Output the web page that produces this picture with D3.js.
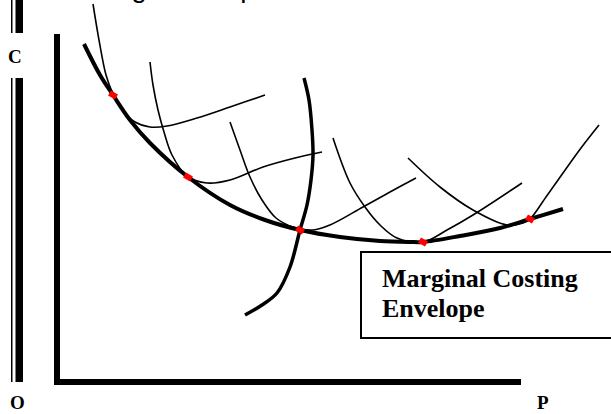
<!DOCTYPE html>
<html>
<head>
<meta charset="utf-8">
<script src="https://cdn.jsdelivr.net/npm/d3@7"></script>
<style>
  body { margin: 0; background: #fff; }
  svg { display: block; }
</style>
</head>
<body>
<div id="chart"></div>
<script>
// Marginal costing envelope diagram: output P (x) against cost C (y)
// values are in the diagram's own units, origin at O

// short-run cost curves, sampled [P, C]
var curveA = [[36, 378], [42, 342], [49, 307], [56, 288], [65, 272], [78, 260], [93, 255], [110, 256], [140, 264], [173, 275], [208, 287]];
var curveB = [[93, 320], [96, 297], [101, 272], [107, 250], [115, 227], [130, 206], [150, 199], [173, 202], [206, 215], [238, 224], [265, 230]];
var curveC = [[173, 260], [183, 232], [193, 205], [205, 182], [219, 164], [236, 155], [256, 152], [273, 157], [306, 175], [333, 190], [359, 204]];
var curveD = [[276, 244], [293, 199], [308, 175], [323, 157], [340, 144], [366, 140], [390, 152], [416, 167], [465, 199]];
var curveE = [[351, 224], [383, 195], [416, 172], [450, 157], [466, 159], [473, 163], [489, 185], [506, 209], [524, 234], [542, 257]];
// heavy curve cutting through the envelope
var mcCurve = [[247, 304], [252, 282], [255, 252], [256, 227], [254, 202], [250, 177], [243, 152], [233, 115], [220, 89], [205, 77], [188, 67]];
// the envelope
var envelope = [[27, 338], [43, 307], [56, 287], [73, 262], [93, 239], [131, 205], [173, 177], [208, 162], [243, 152], [283, 145], [323, 141], [353, 140], [366, 140], [403, 146], [443, 154], [473, 163], [506, 173]];
// tangency points
var tangents = [[56, 287], [131, 205], [243, 152], [366, 140], [473, 163]];

var labelLines = ["Marginal Costing", "Envelope"];

var width = 611, height = 414;
var svg = d3.select("#chart").append("svg")
  .attr("width", width)
  .attr("height", height);

var x = d3.scaleLinear().domain([0, 464]).range([57, 521]);
var y = d3.scaleLinear().domain([0, 348]).range([382, 34]);

var line = d3.line()
  .x(function(d) { return x(d[0]); })
  .y(function(d) { return y(d[1]); })
  .curve(d3.curveCatmullRom.alpha(0.5));

// title cut off at the top edge
svg.append("text")
  .attr("x", 52)
  .attr("y", -3)
  .style("font-family", "Liberation Sans, Arial, sans-serif")
  .style("font-size", "28px")
  .text("Costing Envelope");

// double bar on the left
[[0, 33], [78, 382]].forEach(function(seg) {
  svg.append("rect").attr("x", 11).attr("y", seg[0]).attr("width", 1.5).attr("height", seg[1] - seg[0]).attr("fill", "#000");
  svg.append("rect").attr("x", 15.5).attr("y", seg[0]).attr("width", 7.5).attr("height", seg[1] - seg[0]).attr("fill", "#000");
});

// heavy L-shaped axes
svg.append("path")
  .attr("d", "M" + x(0) + "," + y(348) + " V" + y(0) + " H" + x(464))
  .attr("fill", "none")
  .attr("stroke", "#000")
  .attr("stroke-width", 6);

// axis letters
var serif = "Liberation Serif, Times New Roman, serif";
svg.append("text").attr("x", 8).attr("y", 63).text("C")
  .style("font-family", serif).style("font-weight", "bold").style("font-size", "19px");
svg.append("text").attr("x", 10).attr("y", 409).text("O")
  .style("font-family", serif).style("font-weight", "bold").style("font-size", "19px");
svg.append("text").attr("x", 537).attr("y", 409).text("P")
  .style("font-family", serif).style("font-weight", "bold").style("font-size", "19px");

// short-run curves
[curveA, curveB, curveC, curveD, curveE].forEach(function(c) {
  svg.append("path")
    .datum(c)
    .attr("d", line)
    .attr("fill", "none")
    .attr("stroke", "#000")
    .attr("stroke-width", 1.6);
});

// envelope + MC curve
svg.append("path").datum(envelope).attr("d", line)
  .attr("fill", "none").attr("stroke", "#000").attr("stroke-width", 4);
svg.append("path").datum(mcCurve).attr("d", line)
  .attr("fill", "none").attr("stroke", "#000").attr("stroke-width", 3.5);

// red tangency markers
svg.selectAll(".pt")
  .data(tangents)
  .enter()
  .append("rect")
    .attr("class", "pt")
    .attr("x", function(d) { return x(d[0]) - 4; })
    .attr("y", function(d) { return y(d[1]) - 3; })
    .attr("width", 8)
    .attr("height", 6)
    .attr("fill", "red")
    .attr("transform", function(d) { return "rotate(30," + x(d[0]) + "," + y(d[1]) + ")"; });

// label box
svg.append("rect")
  .attr("x", 361).attr("y", 252).attr("width", 270).attr("height", 86)
  .attr("fill", "#fff").attr("stroke", "#000").attr("stroke-width", 2);
svg.selectAll(".lbl")
  .data(labelLines)
  .enter()
  .append("text")
    .attr("class", "lbl")
    .attr("x", 382)
    .attr("y", function(d, i) { return 287 + i * 30; })
    .style("font-family", serif)
    .style("font-weight", "bold")
    .style("font-size", "26px")
    .text(function(d) { return d; });
</script>
</body>
</html>
